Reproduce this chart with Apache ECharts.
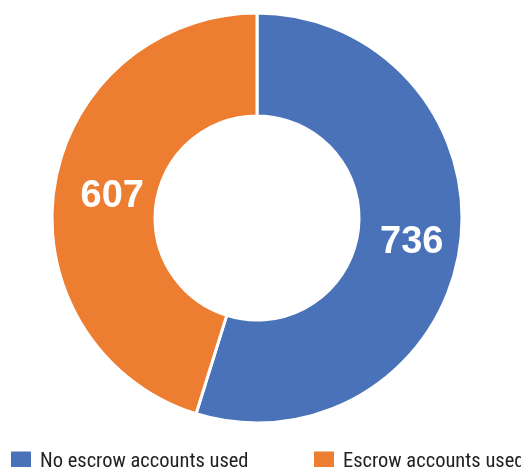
<!DOCTYPE html>
<html><head><meta charset="utf-8">
<script src="https://cdn.jsdelivr.net/npm/echarts@6/dist/echarts.min.js"></script>
<style>html,body{margin:0;padding:0;background:#fff}#c{width:521px;height:467px}</style>
</head><body><div id="c"></div>
<script>
const categories = ['No escrow accounts used', 'Escrow accounts used'];
const values = [736, 607];
const colors = ['#4a72b8', '#ed7d31'];

const chart = echarts.init(document.getElementById('c'), null, {renderer: 'canvas'});
const legendFont = "'Liberation Sans Narrow','Roboto Condensed','DejaVu Sans Condensed',sans-serif";
const legendBase = {itemWidth: 20, itemHeight: 20, icon: 'rect', itemGap: 0, top: 451, padding: 0,
  itemStyle: {borderWidth: 0},
  textStyle: {fontFamily: legendFont, fontSize: 20.5, color: '#222', padding: [0,0,0,4]}};
chart.setOption({
  animation: false,
  color: colors,
  legend: [
    Object.assign({data: [categories[0]], left: 11}, legendBase),
    Object.assign({data: [categories[1]], left: 314}, legendBase)
  ],
  series: [{
    type: 'pie',
    center: [257, 218],
    radius: [102, 205],
    startAngle: 90,
    clockwise: true,
    label: {show: true, position: 'inside', formatter: '{c}', color: '#fff', fontWeight: 'bold',
            fontSize: 38, fontFamily: "'Liberation Sans',Arial,sans-serif"},
    labelLine: {show: false},
    itemStyle: {borderColor: '#fff', borderWidth: 3},
    emphasis: {disabled: true},
    data: categories.map((n, i) => ({name: n, value: values[i],
      label: i === 1 ? {offset: [10, 2]} : {offset: [0, 1]}}))
  }]
});
</script></body></html>
